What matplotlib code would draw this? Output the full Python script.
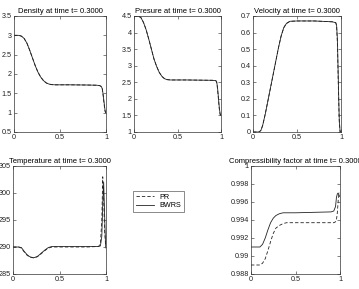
import matplotlib
matplotlib.use("Agg")
import matplotlib.pyplot as plt
from matplotlib.lines import Line2D

plt.rcParams['font.family'] = ['Liberation Sans', 'DejaVu Sans']

# ---------------- data ----------------
x_rho = [0, 0.05, 0.08, 0.11, 0.14, 0.17, 0.20, 0.23, 0.26, 0.29, 0.32, 0.35, 0.38, 0.41,
         0.45, 0.6, 0.8, 0.9, 0.93, 0.95, 0.96, 0.97, 0.98, 0.99, 1.0]
rho_pr = [3.0, 3.0, 2.98, 2.92, 2.80, 2.62, 2.42, 2.22, 2.05, 1.92, 1.83, 1.77, 1.74, 1.725,
          1.72, 1.72, 1.715, 1.71, 1.70, 1.68, 1.60, 1.42, 1.20, 1.03, 0.98]
rho_bwrs = [3.0, 3.0, 2.98, 2.92, 2.80, 2.62, 2.42, 2.22, 2.05, 1.92, 1.83, 1.77, 1.74, 1.725,
            1.72, 1.72, 1.715, 1.71, 1.70, 1.67, 1.62, 1.45, 1.25, 1.05, 1.0]

x_p = [0, 0.05, 0.08, 0.11, 0.14, 0.17, 0.20, 0.23, 0.26, 0.29, 0.32, 0.35, 0.38, 0.42,
       0.6, 0.9, 0.94, 0.95, 0.96, 0.97, 0.98, 0.99, 1.0]
p_pr = [4.5, 4.5, 4.45, 4.3, 4.08, 3.8, 3.5, 3.2, 2.98, 2.8, 2.68, 2.61, 2.58, 2.57,
        2.57, 2.56, 2.55, 2.5, 2.3, 2.0, 1.7, 1.52, 1.5]
p_bwrs = [4.5, 4.5, 4.45, 4.3, 4.08, 3.8, 3.5, 3.2, 2.98, 2.8, 2.68, 2.61, 2.58, 2.57,
          2.57, 2.56, 2.55, 2.52, 2.35, 2.05, 1.75, 1.55, 1.5]

x_u = [0, 0.07, 0.09, 0.11, 0.14, 0.17, 0.20, 0.23, 0.26, 0.29, 0.32, 0.35, 0.38, 0.42,
       0.5, 0.7, 0.9, 0.94, 0.95, 0.96, 0.97, 0.98, 0.99, 1.0]
u_pr = [0, 0, 0.01, 0.04, 0.11, 0.19, 0.27, 0.35, 0.43, 0.51, 0.58, 0.63, 0.655, 0.668,
        0.67, 0.67, 0.665, 0.66, 0.64, 0.52, 0.27, 0.06, 0.0, 0.0]
u_bwrs = [0, 0, 0.01, 0.04, 0.11, 0.19, 0.27, 0.35, 0.43, 0.51, 0.58, 0.63, 0.655, 0.668,
          0.67, 0.67, 0.665, 0.66, 0.645, 0.55, 0.30, 0.08, 0.0, 0.0]

x_T = [0, 0.06, 0.09, 0.12, 0.15, 0.18, 0.22, 0.26, 0.30, 0.34, 0.38, 0.42, 0.5, 0.8,
       0.92, 0.94, 0.955, 0.965, 0.975, 0.985, 0.995, 1.0]
T_pr = [290, 290, 289.8, 289.1, 288.5, 288.1, 288.0, 288.2, 288.7, 289.3, 289.8, 290.0, 290.0, 290.0,
        290.1, 290.6, 295.0, 303.0, 299.0, 293.0, 290.5, 290.0]
T_bwrs = [290, 290, 289.9, 289.2, 288.6, 288.2, 288.0, 288.2, 288.8, 289.4, 289.9, 290.1, 290.1, 290.1,
          290.1, 290.2, 292.0, 298.0, 302.0, 296.0, 290.5, 289.8]

x_Z = [0, 0.10, 0.13, 0.16, 0.19, 0.22, 0.25, 0.28, 0.32, 0.36, 0.40, 0.5, 0.9, 0.93,
       0.95, 0.96, 0.97, 0.98, 0.99, 1.0]
Z_pr = [0.9890, 0.9890, 0.9892, 0.9897, 0.9906, 0.9916, 0.9925, 0.9931, 0.9934, 0.9936, 0.9937, 0.9937,
        0.9937, 0.9937, 0.9938, 0.9940, 0.9948, 0.9962, 0.9970, 0.9970]
Z_bwrs = [0.9910, 0.9910, 0.9913, 0.9920, 0.9929, 0.9937, 0.9942, 0.9945, 0.9947, 0.9948, 0.9948, 0.9948,
          0.9949, 0.9950, 0.9955, 0.9965, 0.9969, 0.9970, 0.9967, 0.9966]

titles = ["Density at time t= 0.3000", "Presure at time t= 0.3000", "Velocity at time t= 0.3000",
          "Temperature at time t= 0.3000", "Compressibility factor at time t= 0.3000"]
xticks = [0, 0.5, 1]
xticklabels = ["0", "0.5", "1"]
yticks_rho = [0.5, 1, 1.5, 2, 2.5, 3, 3.5]
yticks_p = [1, 1.5, 2, 2.5, 3, 3.5, 4, 4.5]
yticks_u = [0, 0.1, 0.2, 0.3, 0.4, 0.5, 0.6, 0.7]
yticks_T = [285, 290, 295, 300, 305]
yticks_Z = [0.988, 0.99, 0.992, 0.994, 0.996, 0.998, 1]
legend_labels = ["PR", "BWRS"]

# ---------------- figure ----------------
W, H = 359, 289
fig = plt.figure(figsize=(W / 100, H / 100), dpi=100)

def rect(l, r, t, b):
    return [l / W, (H - b) / H, (r - l) / W, (b - t) / H]

panels = [
    (rect(14, 106, 16, 132), x_rho, rho_pr, rho_bwrs, yticks_rho, ["0.5", "1", "1.5", "2", "2.5", "3", "3.5"]),
    (rect(134, 221, 16, 132), x_p, p_pr, p_bwrs, yticks_p, ["1", "1.5", "2", "2.5", "3", "3.5", "4", "4.5"]),
    (rect(253, 341, 16, 132), x_u, u_pr, u_bwrs, yticks_u, ["0", "0.1", "0.2", "0.3", "0.4", "0.5", "0.6", "0.7"]),
    (rect(13, 106, 166, 274), x_T, T_pr, T_bwrs, yticks_T, ["285", "290", "295", "300", "305"]),
    (rect(251, 340, 166, 274), x_Z, Z_pr, Z_bwrs, yticks_Z, ["0.988", "0.99", "0.992", "0.994", "0.996", "0.998", "1"]),
]

lc = "#222222"
for (pos, xs, ypr, ybw, yt, ytl), title in zip(panels, titles):
    ax = fig.add_axes(pos)
    ax.plot(xs, ypr, color=lc, lw=0.6, ls=(0, (4, 2.5)))
    ax.plot(xs, ybw, color=lc, lw=0.6, ls="-")
    ax.set_xlim(0, 1)
    ax.set_ylim(yt[0], yt[-1])
    ax.set_xticks(xticks)
    ax.set_xticklabels(xticklabels)
    ax.set_yticks(yt)
    ax.set_yticklabels(ytl)
    ax.tick_params(direction="in", length=2, width=0.4, labelsize=5.2, pad=1.5,
                   top=True, right=True, colors="#222222")
    for s in ax.spines.values():
        s.set_linewidth(0.5)
        s.set_color("#333333")
    ax.set_title(title, fontsize=5.5, pad=2.5)

handles = [Line2D([], [], color=lc, lw=0.6, ls=(0, (4, 2.5))),
           Line2D([], [], color=lc, lw=0.6, ls="-")]
leg = fig.legend(handles, legend_labels, loc="upper left",
                 bbox_to_anchor=(133 / W, 1 - 191 / H), fontsize=5.2,
                 frameon=True, fancybox=False, handlelength=2.5, borderpad=0.4,
                 labelspacing=0.2, handletextpad=0.8, borderaxespad=0)
leg.get_frame().set_edgecolor("#333333")
leg.get_frame().set_linewidth(0.5)

fig.savefig("out.png", dpi=100)
